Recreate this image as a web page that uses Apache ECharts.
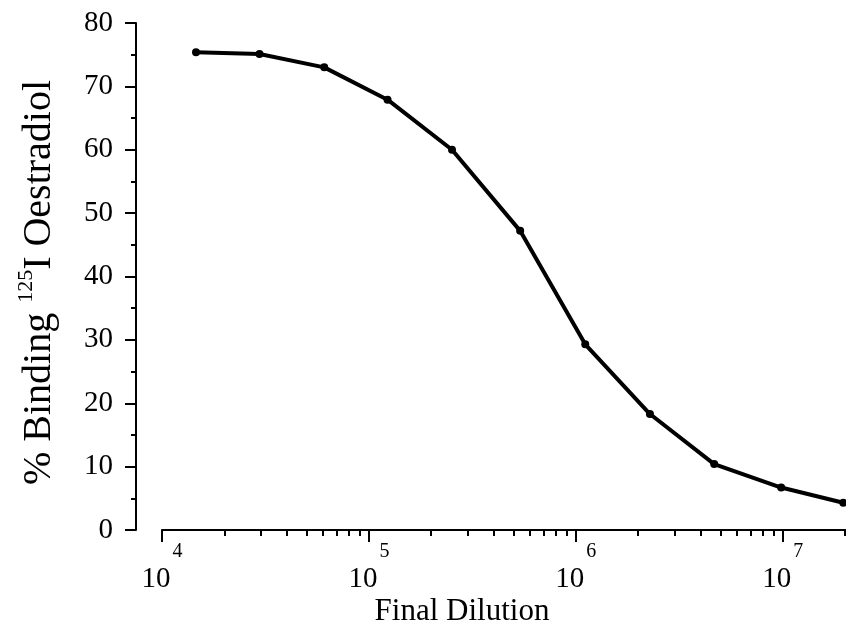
<!DOCTYPE html>
<html>
<head>
<meta charset="utf-8">
<script src="https://cdn.jsdelivr.net/npm/echarts@6/dist/echarts.min.js"></script>
<style>
  html, body { margin: 0; padding: 0; background: #ffffff; }
  #chart { width: 846px; height: 625px; }
</style>
</head>
<body>
<div id="chart"></div>
<script>
// Final dilution of the antiserum (log scale) and % binding of 125I-oestradiol
const dilution = [1.46e4, 2.96e4, 6.08e4, 1.23e5, 2.52e5, 5.38e5, 1.11e6, 2.28e6, 4.66e6, 9.82e6, 1.96e7];
const binding = [75.4, 75.1, 73.0, 67.9, 60.0, 47.2, 29.3, 18.3, 10.4, 6.7, 4.3];

// Axis ranges and tick positions
const xMin = 1e4;
const xMax = 2.02e7;
const majorDecades = [1e4, 1e5, 1e6, 1e7];
const minorTicks = [
  2e4, 3e4, 4e4, 5e4, 6e4, 7e4, 8e4, 9e4,
  2e5, 3e5, 4e5, 5e5, 6e5, 7e5, 8e5, 9e5,
  2e6, 3e6, 4e6, 5e6, 6e6, 7e6, 8e6, 9e6,
  2e7
];
const yTicks = [0, 10, 20, 30, 40, 50, 60, 70, 80];

const serif = '"Liberation Serif", "DejaVu Serif", serif';
const ink = '#000000';

const chart = echarts.init(document.getElementById('chart'), null, { renderer: 'canvas' });

chart.setOption({
  backgroundColor: '#ffffff',
  animation: false,
  grid: { left: 162, right: 0, top: 23, bottom: 95, containLabel: false, outerBoundsMode: 'none' },
  xAxis: [
    {
      type: 'log',
      logBase: 10,
      min: xMin,
      max: xMax,
      position: 'bottom',
      axisLine: { show: true, onZero: false, lineStyle: { color: ink, width: 2 } },
      axisTick: { show: true, inside: false, length: 12, lineStyle: { color: ink, width: 2 } },
      splitLine: { show: false },
      axisLabel: {
        show: true,
        margin: 12,
        showMaxLabel: false,
        formatter: function (v) {
          if (majorDecades.indexOf(v) < 0) return '';
          const e = Math.round(Math.log10(v));
          return '{b|10}{s|' + e + '}';
        },
        rich: {
          b: { fontFamily: serif, fontSize: 29, color: ink, lineHeight: 52, verticalAlign: 'bottom' },
          s: { fontFamily: serif, fontSize: 20, color: ink, lineHeight: 20, verticalAlign: 'top', padding: [0, 0, 0, 2] }
        }
      },
      name: 'Final Dilution',
      nameLocation: 'middle',
      nameGap: 66,
      nameMoveOverlap: false,
      nameTextStyle: { fontFamily: serif, fontSize: 31, color: ink, padding: [0, 84, 0, 0] }
    },
    {
      // short log-spaced minor ticks (2..9 x 10^n), positioned on a log10 value scale
      type: 'value',
      min: Math.log10(xMin),
      max: Math.log10(xMax),
      position: 'bottom',
      axisLine: { show: false, onZero: false },
      axisLabel: { show: false },
      splitLine: { show: false },
      axisTick: {
        show: true,
        inside: false,
        length: 6,
        customValues: minorTicks.map(function (v) { return Math.log10(v); }),
        lineStyle: { color: ink, width: 2 }
      }
    }
  ],
  yAxis: {
    type: 'value',
    min: 0,
    max: 80,
    interval: 10,
    offset: 26,
    axisLine: { show: true, onZero: false, lineStyle: { color: ink, width: 2 } },
    axisTick: { show: true, inside: false, length: 11, lineStyle: { color: ink, width: 2 } },
    minorTick: { show: true, splitNumber: 2, length: 5, lineStyle: { color: ink, width: 2 } },
    splitLine: { show: false },
    axisLabel: {
      margin: 23,
      fontFamily: serif,
      fontSize: 29,
      color: ink,
      formatter: function (v) { return yTicks.indexOf(v) >= 0 ? String(v) : ''; }
    },
    name: '{a|% Binding }{s|125}{a|I Oestradiol}',
    nameLocation: 'middle',
    nameRotate: 90,
    nameGap: 77,
    nameTextStyle: {
      padding: [0, 12, 0, 0],
      rich: {
        a: { fontFamily: serif, fontSize: 40, color: ink, lineHeight: 44, verticalAlign: 'bottom' },
        s: { fontFamily: serif, fontSize: 22, color: ink, lineHeight: 22, verticalAlign: 'top' }
      }
    }
  },
  series: [
    {
      type: 'line',
      xAxisIndex: 0,
      yAxisIndex: 0,
      data: dilution.map(function (d, i) { return [d, binding[i]]; }),
      symbol: 'circle',
      symbolSize: 8,
      showSymbol: true,
      itemStyle: { color: ink },
      lineStyle: { color: ink, width: 4 },
      smooth: false,
      clip: false
    }
  ]
});
</script>
</body>
</html>
